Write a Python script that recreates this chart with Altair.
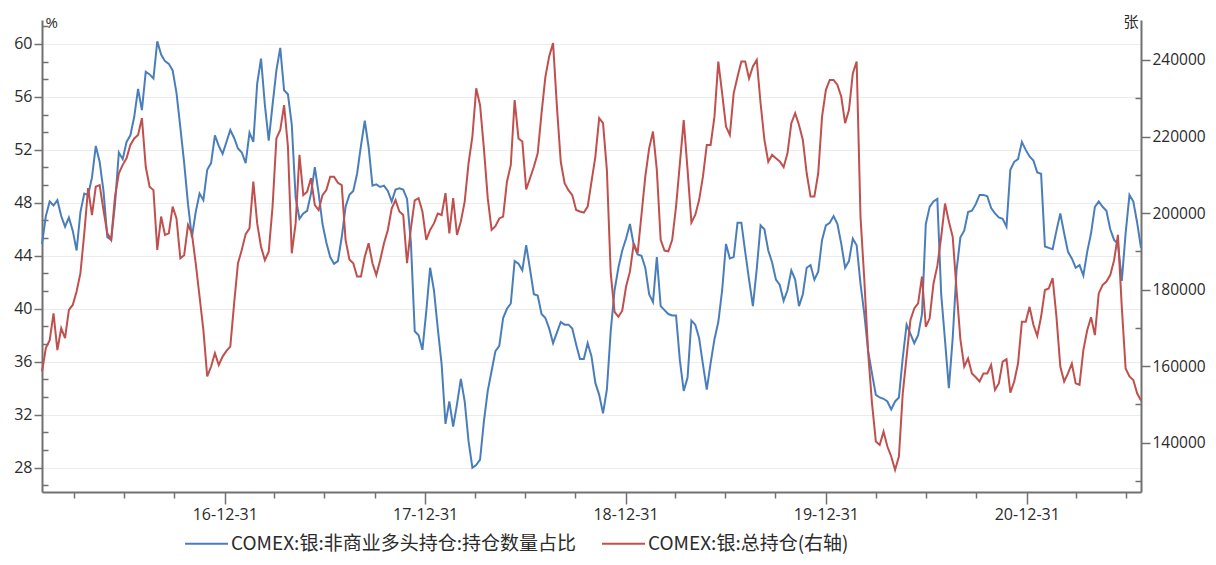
import altair as alt
import pandas as pd

# ---------------- data (weekly) ----------------
start_date = "2016-02-02"
blue_label = "COMEX:银:非商业多头持仓:持仓数量占比"
red_label = "COMEX:银:总持仓(右轴)"

blue_pct = [
    44.9, 47.0, 48.1, 47.8, 48.2, 47.0, 46.2, 46.9, 45.9, 44.4,
    47.3, 48.7, 48.6, 49.9, 52.3, 51.1, 48.9, 45.4, 45.2, 47.9,
    51.8, 51.3, 52.6, 53.1, 54.5, 56.6, 55.0, 57.9, 57.7, 57.4,
    60.2, 59.2, 58.7, 58.5, 58.0, 56.3, 53.7, 51.0, 47.9, 45.4,
    47.3, 48.7, 48.2, 50.5, 51.0, 53.1, 52.3, 51.7, 52.6, 53.5,
    52.9, 52.1, 51.8, 51.0, 53.3, 52.6, 57.0, 58.9, 55.4, 52.7,
    55.4, 58.0, 59.7, 56.5, 56.2, 53.9, 48.4, 46.8, 47.2, 47.4,
    48.7, 50.7, 48.7, 46.4, 45.0, 43.9, 43.4, 43.6, 45.4, 47.7,
    48.6, 48.9, 50.2, 52.3, 54.2, 52.2, 49.3, 49.4, 49.2, 49.3,
    48.9, 48.1, 49.0, 49.1, 49.0, 48.3, 45.0, 38.3, 38.0, 36.9,
    39.8, 43.1, 41.4, 38.5, 35.8, 31.3, 33.0, 31.1, 32.8, 34.7,
    33.0, 30.0, 28.0, 28.2, 28.6, 31.5, 33.8, 35.3, 36.8, 37.2,
    39.3, 40.0, 40.4, 43.6, 43.4, 42.9, 44.8, 43.0, 41.1, 41.0,
    39.6, 39.3, 38.5, 37.4, 38.2, 39.0, 38.8, 38.8, 38.5, 37.3,
    36.2, 36.2, 37.4, 36.4, 34.4, 33.5, 32.1, 33.9, 38.3, 41.4,
    43.1, 44.4, 45.3, 46.4, 44.8, 44.1, 44.0, 43.1, 41.1, 40.5,
    43.9, 40.2, 39.9, 39.6, 39.5, 39.5, 36.1, 33.8, 34.8, 39.1,
    38.8, 37.8, 35.8, 33.9, 35.9, 37.7, 39.0, 41.4, 44.9, 43.8,
    43.9, 46.5, 46.5, 44.3, 42.2, 40.2, 43.0, 46.3, 46.0, 44.4,
    43.5, 42.2, 41.8, 40.6, 41.4, 42.9, 42.2, 40.2, 41.1, 43.1,
    43.3, 42.2, 42.8, 45.2, 46.3, 46.5, 47.0, 46.4, 44.9, 43.1,
    43.6, 45.3, 44.8, 41.9, 39.6, 36.8, 35.1, 33.5, 33.3, 33.2,
    33.0, 32.4, 33.0, 33.3, 36.3, 38.8, 38.1, 37.4, 38.0, 39.6,
    46.4, 47.7, 48.1, 48.3, 41.1, 37.6, 34.0, 37.8, 42.9, 45.4,
    45.9, 47.3, 47.4, 47.9, 48.6, 48.6, 48.5, 47.6, 47.2, 46.9,
    46.8, 46.2, 50.5, 51.1, 51.3, 52.6, 52.0, 51.5, 51.2, 50.3,
    50.2, 44.7, 44.6, 44.5, 45.9, 47.2, 45.7, 44.3, 43.8, 43.1,
    43.3, 42.5, 44.3, 45.7, 47.7, 48.1, 47.7, 47.4, 46.0, 45.2,
    44.9, 42.1, 45.7, 48.6, 48.1, 46.5, 44.6,
]

red_oi = [
    158600, 164700, 166800, 173800, 164200, 169900, 167300, 174700, 176000, 179500,
    184300, 194700, 206500, 199500, 206900, 207300, 200800, 194700, 193000, 204300,
    210400, 212600, 214300, 217800, 219500, 220400, 224800, 212100, 206900, 206000,
    190400, 199100, 194300, 194700, 201700, 198600, 188200, 189000, 196900, 194700,
    186900, 178200, 169400, 157300, 159900, 163400, 160300, 162500, 164000, 165100,
    176400, 186900, 190400, 194500, 196000, 208200, 197300, 191200, 187700, 189900,
    201700, 219500, 221700, 228200, 217400, 189500, 197300, 215200, 204700, 205600,
    209100, 202100, 200800, 204700, 206000, 209500, 209500, 207900, 207300, 193000,
    187900, 186900, 183400, 183400, 188600, 192100, 186900, 183800, 187700, 192100,
    195600, 201200, 203400, 200400, 199500, 186900, 196000, 203300, 203900, 200400,
    193000, 195600, 197300, 199900, 199500, 205200, 194700, 203900, 194300, 197800,
    203000, 213000, 220000, 232600, 228200, 216900, 203900, 195600, 196600, 198600,
    199100, 208200, 212600, 229500, 219500, 218700, 206200, 209100, 212100, 215600,
    226100, 235600, 241000, 244400, 227800, 213400, 207800, 206000, 204700, 200800,
    200400, 200100, 201700, 208200, 214700, 224800, 223500, 211300, 184300, 174200,
    172900, 174500, 180800, 184700, 192100, 189500, 199500, 209500, 216900, 221300,
    211300, 193000, 190200, 190000, 193000, 201700, 213000, 224300, 211300, 197500,
    199500, 203400, 209500, 217800, 217800, 225200, 239600, 231300, 222600, 220400,
    231300, 235600, 239600, 239600, 235200, 238300, 240000, 228700, 219100, 213400,
    215200, 214300, 213500, 212000, 215600, 223500, 226100, 223000, 219100, 210400,
    204300, 204300, 210400, 225200, 232200, 234800, 234800, 233500, 230400, 223500,
    226900, 236500, 239600, 199100, 182500, 163400, 150300, 140300, 139400, 142900,
    139000, 136400, 132900, 136400, 152900, 162500, 172100, 175100, 176400, 183400,
    170300, 172500, 181600, 186200, 193800, 202500, 197800, 193800, 179900, 167000,
    159900, 162000, 158100, 157100, 156000, 158100, 158100, 160300, 153800, 155500,
    161200, 161800, 153100, 156000, 160700, 171600, 171600, 175500, 170800, 167900,
    172900, 179900, 180300, 183000, 172900, 159900, 156000, 158100, 160700, 155500,
    155100, 164200, 169400, 172800, 168100, 179000, 181200, 182100, 183800, 187700,
    194300, 175500, 159400, 157300, 156400, 152900, 151000,
]

quarter_ticks = [
    "2016-03-31", "2016-06-30", "2016-09-30", "2016-12-31",
    "2017-03-31", "2017-06-30", "2017-09-30", "2017-12-31",
    "2018-03-31", "2018-06-30", "2018-09-30", "2018-12-31",
    "2019-03-31", "2019-06-30", "2019-09-30", "2019-12-31",
    "2020-03-31", "2020-06-30", "2020-09-30", "2020-12-31",
    "2021-03-31", "2021-06-30",
]
left_major = [28, 32, 36, 40, 44, 48, 52, 56, 60]
left_minor = [26.67, 29.33, 30.67, 33.33, 34.67, 37.33, 38.67, 41.33, 42.67,
              45.33, 46.67, 49.33, 50.67, 53.33, 54.67, 57.33, 58.67, 61.33]
right_major = [140000, 160000, 180000, 200000, 220000, 240000]
right_minor = [130000, 150000, 170000, 190000, 210000, 230000]
left_domain = [26.16, 61.81]
right_domain = [127120, 250450]

# ---------------- build ----------------
dates = pd.date_range(start_date, periods=len(blue_pct), freq="7D").strftime("%Y-%m-%d")
df = pd.DataFrame({
    "date": list(dates),
    "pct": blue_pct,
    "oi": red_oi,
    "s_blue": blue_label,
    "s_red": red_label,
})
tick_ms = [int(pd.Timestamp(d, tz="UTC").value // 10**6) for d in quarter_ticks]

BLUE = "#4a7ebb"
RED = "#c0504d"
AXIS = "#717171"
LABEL = "#2b2b2b"
FONT = "Open Sans"
CJK = "Noto Sans CJK SC"

x_enc = alt.X(
    "date:T",
    scale=alt.Scale(type="utc"),
    axis=alt.Axis(
        title=None, values=tick_ms, grid=False,
        labelExpr="utcmonth(datum.value) == 11 ? utcFormat(datum.value, '%y-%m-%d') : ''",
        tickSize={"condition": {"test": "utcmonth(datum.value) == 11", "value": 12}, "value": 6},
        tickColor=AXIS, tickWidth=1.5, domainColor=AXIS, domainWidth=2,
        labelFont=FONT, labelFontSize=16, labelColor=LABEL, labelPadding=2,
        labelOverlap=False, labelFlush=False,
    ),
)

legend = alt.Legend(
    title=None, orient="none", legendX=142, legendY=501, direction="horizontal",
    symbolType="stroke", symbolSize=1849, symbolStrokeWidth=2,
    labelFont=CJK, labelFontSize=19, labelColor=LABEL, labelOffset=2, labelLimit=0,
    columnPadding=22, padding=0,
)
color_scale = alt.Scale(domain=[blue_label, red_label], range=[BLUE, RED])

base = alt.Chart(df)

blue = base.mark_line(strokeWidth=2).encode(
    x=x_enc,
    y=alt.Y("pct:Q", scale=alt.Scale(domain=left_domain, nice=False, zero=False),
            axis=alt.Axis(orient="left", values=left_major, title="%", titleAngle=0,
                          titleAlign="left", titleBaseline="alphabetic", titleX=3, titleY=7,
                          titleFont=FONT, titleFontSize=15, titleFontWeight="normal", titleColor=LABEL,
                          grid=True, gridColor="#ececec", gridWidth=1,
                          tickSize=8, tickColor=AXIS, tickWidth=1.5,
                          domainColor=AXIS, domainWidth=2,
                          labelFont=FONT, labelFontSize=16, labelColor=LABEL, labelPadding=2)),
    color=alt.Color("s_blue:N", scale=color_scale, legend=legend),
)

red = base.mark_line(strokeWidth=2).encode(
    x=x_enc,
    y=alt.Y("oi:Q", scale=alt.Scale(domain=right_domain, nice=False, zero=False),
            axis=alt.Axis(orient="right", values=right_major, format="d", title="张", titleAngle=0,
                          titleAlign="right", titleBaseline="alphabetic", titleX=-3, titleY=6,
                          titleFont=CJK, titleFontSize=15, titleFontWeight="normal", titleColor=LABEL,
                          grid=False, tickSize=9, tickColor=AXIS, tickWidth=1.5,
                          domainColor=AXIS, domainWidth=2,
                          labelFont=FONT, labelFontSize=15.5, labelColor=LABEL, labelPadding=2)),
    color=alt.Color("s_red:N", scale=color_scale, legend=legend),
)

blue_minor = base.mark_line(opacity=0).encode(
    x=x_enc,
    y=alt.Y("pct:Q", scale=alt.Scale(domain=left_domain, nice=False, zero=False),
            axis=alt.Axis(orient="left", values=left_minor, offset=-6, tickSize=6,
                          tickColor=AXIS, tickWidth=1.5, labels=False, domain=False,
                          grid=False, title=None)),
)

red_minor = base.mark_line(opacity=0).encode(
    x=x_enc,
    y=alt.Y("oi:Q", scale=alt.Scale(domain=right_domain, nice=False, zero=False),
            axis=alt.Axis(orient="right", values=right_minor, offset=-6, tickSize=6,
                          tickColor=AXIS, tickWidth=1.5, labels=False, domain=False,
                          grid=False, title=None)),
)

chart = (
    alt.layer(blue, red, blue_minor, red_minor)
    .resolve_scale(y="independent")
    .properties(
        width=1099, height=472,
        padding={"left": 34, "top": 12, "right": 67, "bottom": 65},
        autosize=alt.AutoSizeParams(type="none"),
        background="white",
    )
    .configure_view(stroke=None)
)

chart.save("out.html", embed_options={"renderer": "svg", "actions": False})
